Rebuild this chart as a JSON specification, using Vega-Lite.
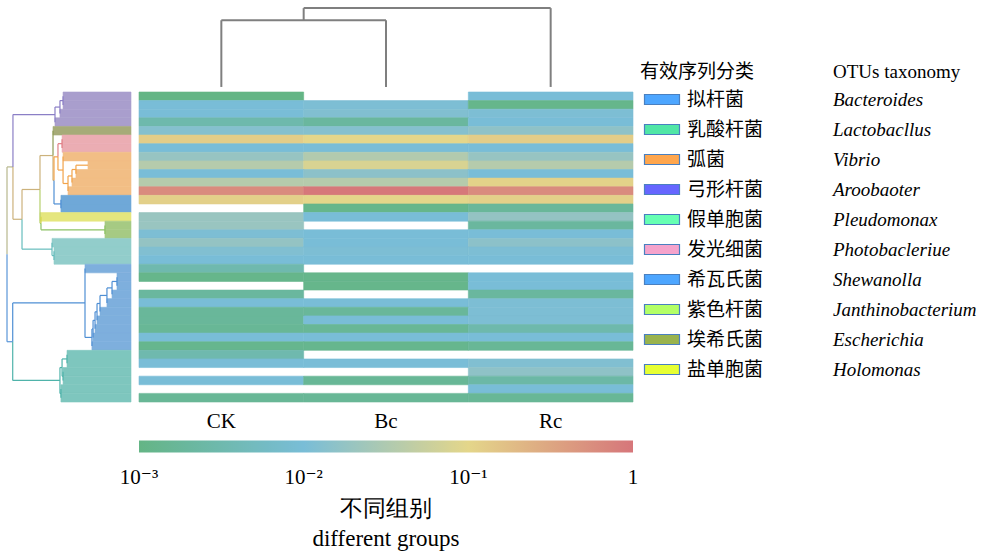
{
  "$schema": "https://vega.github.io/schema/vega-lite/v6.json",
  "background": "white",
  "padding": 0,
  "bounds": "flush",
  "columns": 2,
  "spacing": 0,
  "config": {"view": {"stroke": null}},
  "datasets": {
    "topTree": [
      {"c1": 0.5, "c2": 0.5, "h1": 0, "h2": 0.846},
      {"c1": 1.5, "c2": 1.5, "h1": 0, "h2": 0.846},
      {"c1": 0.5, "c2": 1.5, "h1": 0.846, "h2": 0.846},
      {"c1": 1, "c2": 1, "h1": 0.846, "h2": 1},
      {"c1": 2.5, "c2": 2.5, "h1": 0, "h2": 1},
      {"c1": 1, "c2": 2.5, "h1": 1, "h2": 1}
    ],
    "leaves": [
      {"otu": "OTU01", "taxon": "弓形杆菌", "h": 0.548},
      {"otu": "OTU02", "taxon": "弓形杆菌", "h": 0.548},
      {"otu": "OTU03", "taxon": "弓形杆菌", "h": 0.573},
      {"otu": "OTU04", "taxon": "弓形杆菌", "h": 0.613},
      {"otu": "OTU05", "taxon": "埃希氏菌", "h": 0.629},
      {"otu": "OTU06", "taxon": "发光细菌", "h": 0.556},
      {"otu": "OTU07", "taxon": "发光细菌", "h": 0.556},
      {"otu": "OTU08", "taxon": "弧菌", "h": 0.548},
      {"otu": "OTU09", "taxon": "弧菌", "h": 0.347},
      {"otu": "OTU10", "taxon": "弧菌", "h": 0.444},
      {"otu": "OTU11", "taxon": "弧菌", "h": 0.476},
      {"otu": "OTU12", "taxon": "弧菌", "h": 0.508},
      {"otu": "OTU13", "taxon": "拟杆菌", "h": 0.565},
      {"otu": "OTU14", "taxon": "拟杆菌", "h": 0.565},
      {"otu": "OTU15", "taxon": "盐单胞菌", "h": 0.734},
      {"otu": "OTU16", "taxon": "紫色杆菌", "h": 0.21},
      {"otu": "OTU17", "taxon": "紫色杆菌", "h": 0.21},
      {"otu": "OTU18", "taxon": "假单胞菌", "h": 0.637},
      {"otu": "OTU19", "taxon": "假单胞菌", "h": 0.621},
      {"otu": "OTU20", "taxon": "假单胞菌", "h": 0.621},
      {"otu": "OTU21", "taxon": "希瓦氏菌", "h": 0.371},
      {"otu": "OTU22", "taxon": "希瓦氏菌", "h": 0.113},
      {"otu": "OTU23", "taxon": "希瓦氏菌", "h": 0.113},
      {"otu": "OTU24", "taxon": "希瓦氏菌", "h": 0.153},
      {"otu": "OTU25", "taxon": "希瓦氏菌", "h": 0.194},
      {"otu": "OTU26", "taxon": "希瓦氏菌", "h": 0.25},
      {"otu": "OTU27", "taxon": "希瓦氏菌", "h": 0.274},
      {"otu": "OTU28", "taxon": "希瓦氏菌", "h": 0.29},
      {"otu": "OTU29", "taxon": "希瓦氏菌", "h": 0.306},
      {"otu": "OTU30", "taxon": "希瓦氏菌", "h": 0.315},
      {"otu": "OTU31", "taxon": "乳酸杆菌", "h": 0.516},
      {"otu": "OTU32", "taxon": "乳酸杆菌", "h": 0.516},
      {"otu": "OTU33", "taxon": "乳酸杆菌", "h": 0.548},
      {"otu": "OTU34", "taxon": "乳酸杆菌", "h": 0.548},
      {"otu": "OTU35", "taxon": "乳酸杆菌", "h": 0.565},
      {"otu": "OTU36", "taxon": "乳酸杆菌", "h": 0.565}
    ],
    "tree": [
      {"h1": 1.0, "h2": 1.0, "y1": 9.2, "y2": 19.35, "c": "m1"},
      {"h1": 1.0, "h2": 1.0, "y1": 19.35, "y2": 29.5, "c": "m4"},
      {"h1": 1.0, "h2": 0.952, "y1": 9.2, "y2": 9.2, "c": "m1"},
      {"h1": 1.0, "h2": 0.954, "y1": 29.5, "y2": 29.5, "c": "m4"},
      {"h1": 0.952, "h2": 0.952, "y1": 3.125, "y2": 9.2, "c": "弓形杆菌"},
      {"h1": 0.952, "h2": 0.952, "y1": 9.2, "y2": 15.28, "c": "m2"},
      {"h1": 0.952, "h2": 0.613, "y1": 3.125, "y2": 3.125, "c": "弓形杆菌"},
      {"h1": 0.952, "h2": 0.879, "y1": 15.28, "y2": 15.28, "c": "m2"},
      {"h1": 0.613, "h2": 0.613, "y1": 2.25, "y2": 4, "c": "弓形杆菌"},
      {"h1": 0.613, "h2": 0.573, "y1": 2.25, "y2": 2.25, "c": "弓形杆菌"},
      {"h1": 0.573, "h2": 0.573, "y1": 1.5, "y2": 3, "c": "弓形杆菌"},
      {"h1": 0.573, "h2": 0.548, "y1": 1.5, "y2": 1.5, "c": "弓形杆菌"},
      {"h1": 0.548, "h2": 0.548, "y1": 1, "y2": 2, "c": "弓形杆菌"},
      {"h1": 0.879, "h2": 0.879, "y1": 11.82, "y2": 15.28, "c": "m2"},
      {"h1": 0.879, "h2": 0.879, "y1": 15.28, "y2": 18.75, "c": "假单胞菌"},
      {"h1": 0.879, "h2": 0.734, "y1": 11.82, "y2": 11.82, "c": "m2"},
      {"h1": 0.879, "h2": 0.637, "y1": 18.75, "y2": 18.75, "c": "假单胞菌"},
      {"h1": 0.637, "h2": 0.637, "y1": 18, "y2": 19.5, "c": "假单胞菌"},
      {"h1": 0.637, "h2": 0.621, "y1": 19.5, "y2": 19.5, "c": "假单胞菌"},
      {"h1": 0.621, "h2": 0.621, "y1": 19, "y2": 20, "c": "假单胞菌"},
      {"h1": 0.734, "h2": 0.734, "y1": 7.88, "y2": 11.82, "c": "m2"},
      {"h1": 0.734, "h2": 0.734, "y1": 11.82, "y2": 15.75, "c": "m3"},
      {"h1": 0.734, "h2": 0.629, "y1": 7.88, "y2": 7.88, "c": "m2"},
      {"h1": 0.734, "h2": 0.726, "y1": 15.75, "y2": 15.75, "c": "m3"},
      {"h1": 0.726, "h2": 0.726, "y1": 15, "y2": 15.75, "c": "盐单胞菌"},
      {"h1": 0.726, "h2": 0.726, "y1": 15.75, "y2": 16.5, "c": "紫色杆菌"},
      {"h1": 0.726, "h2": 0.21, "y1": 16.5, "y2": 16.5, "c": "紫色杆菌"},
      {"h1": 0.21, "h2": 0.21, "y1": 16, "y2": 17, "c": "紫色杆菌"},
      {"h1": 0.629, "h2": 0.629, "y1": 5, "y2": 7.88, "c": "埃希氏菌"},
      {"h1": 0.629, "h2": 0.629, "y1": 7.88, "y2": 10.77, "c": "m2"},
      {"h1": 0.629, "h2": 0.621, "y1": 10.77, "y2": 10.77, "c": "m2"},
      {"h1": 0.621, "h2": 0.621, "y1": 8.03, "y2": 10.77, "c": "弧菌"},
      {"h1": 0.621, "h2": 0.621, "y1": 10.77, "y2": 13.5, "c": "拟杆菌"},
      {"h1": 0.621, "h2": 0.589, "y1": 8.03, "y2": 8.03, "c": "弧菌"},
      {"h1": 0.621, "h2": 0.565, "y1": 13.5, "y2": 13.5, "c": "拟杆菌"},
      {"h1": 0.565, "h2": 0.565, "y1": 13, "y2": 14, "c": "拟杆菌"},
      {"h1": 0.589, "h2": 0.589, "y1": 6.5, "y2": 8.03, "c": "发光细菌"},
      {"h1": 0.589, "h2": 0.589, "y1": 8.03, "y2": 9.5625, "c": "弧菌"},
      {"h1": 0.589, "h2": 0.556, "y1": 6.5, "y2": 6.5, "c": "发光细菌"},
      {"h1": 0.589, "h2": 0.548, "y1": 9.5625, "y2": 9.5625, "c": "弧菌"},
      {"h1": 0.556, "h2": 0.556, "y1": 6, "y2": 7, "c": "发光细菌"},
      {"h1": 0.548, "h2": 0.548, "y1": 8, "y2": 11.125, "c": "弧菌"},
      {"h1": 0.548, "h2": 0.508, "y1": 11.125, "y2": 11.125, "c": "弧菌"},
      {"h1": 0.508, "h2": 0.508, "y1": 10.25, "y2": 12, "c": "弧菌"},
      {"h1": 0.508, "h2": 0.476, "y1": 10.25, "y2": 10.25, "c": "弧菌"},
      {"h1": 0.476, "h2": 0.476, "y1": 9.5, "y2": 11, "c": "弧菌"},
      {"h1": 0.476, "h2": 0.444, "y1": 9.5, "y2": 9.5, "c": "弧菌"},
      {"h1": 0.444, "h2": 0.444, "y1": 9, "y2": 10, "c": "弧菌"},
      {"h1": 0.444, "h2": 0.347, "y1": 9, "y2": 9, "c": "弧菌"},
      {"h1": 0.954, "h2": 0.954, "y1": 25, "y2": 29.5, "c": "希瓦氏菌"},
      {"h1": 0.954, "h2": 0.954, "y1": 29.5, "y2": 34, "c": "乳酸杆菌"},
      {"h1": 0.954, "h2": 0.371, "y1": 25, "y2": 25, "c": "希瓦氏菌"},
      {"h1": 0.954, "h2": 0.573, "y1": 34, "y2": 34, "c": "乳酸杆菌"},
      {"h1": 0.371, "h2": 0.371, "y1": 21, "y2": 29, "c": "希瓦氏菌"},
      {"h1": 0.371, "h2": 0.315, "y1": 29, "y2": 29, "c": "希瓦氏菌"},
      {"h1": 0.315, "h2": 0.315, "y1": 28.01, "y2": 30, "c": "希瓦氏菌"},
      {"h1": 0.315, "h2": 0.306, "y1": 28.01, "y2": 28.01, "c": "希瓦氏菌"},
      {"h1": 0.306, "h2": 0.306, "y1": 27.02, "y2": 29, "c": "希瓦氏菌"},
      {"h1": 0.306, "h2": 0.29, "y1": 27.02, "y2": 27.02, "c": "希瓦氏菌"},
      {"h1": 0.29, "h2": 0.29, "y1": 26.03, "y2": 28, "c": "希瓦氏菌"},
      {"h1": 0.29, "h2": 0.274, "y1": 26.03, "y2": 26.03, "c": "希瓦氏菌"},
      {"h1": 0.274, "h2": 0.274, "y1": 25.06, "y2": 27, "c": "希瓦氏菌"},
      {"h1": 0.274, "h2": 0.25, "y1": 25.06, "y2": 25.06, "c": "希瓦氏菌"},
      {"h1": 0.25, "h2": 0.25, "y1": 24.125, "y2": 26, "c": "希瓦氏菌"},
      {"h1": 0.25, "h2": 0.194, "y1": 24.125, "y2": 24.125, "c": "希瓦氏菌"},
      {"h1": 0.194, "h2": 0.194, "y1": 23.25, "y2": 25, "c": "希瓦氏菌"},
      {"h1": 0.194, "h2": 0.153, "y1": 23.25, "y2": 23.25, "c": "希瓦氏菌"},
      {"h1": 0.153, "h2": 0.153, "y1": 22.5, "y2": 24, "c": "希瓦氏菌"},
      {"h1": 0.153, "h2": 0.113, "y1": 22.5, "y2": 22.5, "c": "希瓦氏菌"},
      {"h1": 0.113, "h2": 0.113, "y1": 22, "y2": 23, "c": "希瓦氏菌"},
      {"h1": 0.573, "h2": 0.573, "y1": 32.5, "y2": 35.5, "c": "乳酸杆菌"},
      {"h1": 0.573, "h2": 0.556, "y1": 32.5, "y2": 32.5, "c": "乳酸杆菌"},
      {"h1": 0.573, "h2": 0.565, "y1": 35.5, "y2": 35.5, "c": "乳酸杆菌"},
      {"h1": 0.556, "h2": 0.556, "y1": 31.5, "y2": 33.5, "c": "乳酸杆菌"},
      {"h1": 0.556, "h2": 0.516, "y1": 31.5, "y2": 31.5, "c": "乳酸杆菌"},
      {"h1": 0.556, "h2": 0.548, "y1": 33.5, "y2": 33.5, "c": "乳酸杆菌"},
      {"h1": 0.516, "h2": 0.516, "y1": 31, "y2": 32, "c": "乳酸杆菌"},
      {"h1": 0.548, "h2": 0.548, "y1": 33, "y2": 34, "c": "乳酸杆菌"},
      {"h1": 0.565, "h2": 0.565, "y1": 35, "y2": 36, "c": "乳酸杆菌"}
    ],
    "cells": [
      {"otu": "OTU01", "CK": 0.001, "Rc": 0.01},
      {"otu": "OTU02", "CK": 0.01, "Bc": 0.011, "Rc": 0.0012},
      {"otu": "OTU03", "CK": 0.01, "Bc": 0.012, "Rc": 0.011},
      {"otu": "OTU04", "CK": 0.003, "Bc": 0.002, "Rc": 0.01},
      {"otu": "OTU05", "CK": 0.013, "Bc": 0.013, "Rc": 0.016},
      {"otu": "OTU06", "CK": 0.125, "Bc": 0.1, "Rc": 0.125},
      {"otu": "OTU07", "CK": 0.01, "Bc": 0.01, "Rc": 0.01},
      {"otu": "OTU08", "CK": 0.019, "Bc": 0.034, "Rc": 0.019},
      {"otu": "OTU09", "CK": 0.036, "Bc": 0.078, "Rc": 0.036},
      {"otu": "OTU10", "CK": 0.01, "Bc": 0.015, "Rc": 0.01},
      {"otu": "OTU11", "CK": 0.036, "Bc": 0.036, "Rc": 0.11},
      {"otu": "OTU12", "CK": 0.6, "Bc": 0.95, "Rc": 0.6},
      {"otu": "OTU13", "CK": 0.115, "Bc": 0.1, "Rc": 0.115},
      {"otu": "OTU14", "Bc": 0.0012, "Rc": 0.0018},
      {"otu": "OTU15", "CK": 0.02, "Bc": 0.01, "Rc": 0.018},
      {"otu": "OTU16", "CK": 0.02, "Rc": 0.002},
      {"otu": "OTU17", "CK": 0.011, "Bc": 0.01, "Rc": 0.01},
      {"otu": "OTU18", "CK": 0.018, "Bc": 0.01, "Rc": 0.015},
      {"otu": "OTU19", "CK": 0.012, "Bc": 0.011, "Rc": 0.011},
      {"otu": "OTU20", "CK": 0.01, "Bc": 0.01, "Rc": 0.01},
      {"otu": "OTU21", "CK": 0.0032},
      {"otu": "OTU22", "CK": 0.0012, "Bc": 0.0012, "Rc": 0.01},
      {"otu": "OTU23", "Bc": 0.0012, "Rc": 0.01},
      {"otu": "OTU24", "CK": 0.002, "Rc": 0.002},
      {"otu": "OTU25", "CK": 0.01, "Bc": 0.01, "Rc": 0.011},
      {"otu": "OTU26", "CK": 0.0018, "Bc": 0.0018, "Rc": 0.011},
      {"otu": "OTU27", "CK": 0.0018, "Bc": 0.01, "Rc": 0.011},
      {"otu": "OTU28", "CK": 0.0016, "Bc": 0.0016, "Rc": 0.003},
      {"otu": "OTU29", "CK": 0.01, "Bc": 0.01, "Rc": 0.01},
      {"otu": "OTU30", "CK": 0.0013, "Bc": 0.0013, "Rc": 0.0016},
      {"otu": "OTU31", "CK": 0.0032},
      {"otu": "OTU32", "CK": 0.01, "Bc": 0.01, "Rc": 0.012},
      {"otu": "OTU33", "Rc": 0.016},
      {"otu": "OTU34", "CK": 0.01, "Bc": 0.0016, "Rc": 0.0025},
      {"otu": "OTU35", "Rc": 0.01},
      {"otu": "OTU36", "CK": 0.0016, "Bc": 0.0016, "Rc": 0.0016}
    ],
    "taxa": [
      {"cn": "拟杆菌", "latin": "Bacteroides"},
      {"cn": "乳酸杆菌", "latin": "Lactobacllus"},
      {"cn": "弧菌", "latin": "Vibrio"},
      {"cn": "弓形杆菌", "latin": "Aroobaoter"},
      {"cn": "假单胞菌", "latin": "Pleudomonax"},
      {"cn": "发光细菌", "latin": "Photobacleriue"},
      {"cn": "希瓦氏菌", "latin": "Shewanolla"},
      {"cn": "紫色杆菌", "latin": "Janthinobacterium"},
      {"cn": "埃希氏菌", "latin": "Escherichia"},
      {"cn": "盐单胞菌", "latin": "Holomonas"}
    ]
  },
  "concat": [
    {
      "width": 139, "height": 92,
      "data": {"values": []},
      "mark": "point",
      "encoding": {}
    },
    {
      "width": 494, "height": 92,
      "data": {"name": "topTree"},
      "mark": {"type": "rule", "color": "#7f7f7f", "strokeWidth": 2},
      "encoding": {
        "x": {"field": "c1", "type": "quantitative", "scale": {"domain": [0, 3], "nice": false, "zero": false}, "axis": null},
        "x2": {"field": "c2"},
        "y": {"field": "h1", "type": "quantitative", "scale": {"domain": [-0.064, 1.103], "nice": false, "zero": false}, "axis": null},
        "y2": {"field": "h2"}
      }
    },
    {
      "width": 139, "height": 310,
      "layer": [
        {
          "data": {"name": "leaves"},
          "mark": {"type": "rect", "strokeWidth": 0.6},
          "encoding": {
            "x": {"field": "h", "type": "quantitative", "scale": {"domain": [-0.0645, 1.0565], "reverse": true, "nice": false, "zero": false}, "axis": null},
            "x2": {"datum": 0},
            "y": {"field": "otu", "type": "ordinal", "scale": {"paddingInner": 0, "paddingOuter": 0}, "axis": null},
            "color": {
              "field": "taxon", "type": "nominal", "legend": null,
              "scale": {
                "domain": ["弓形杆菌", "埃希氏菌", "发光细菌", "弧菌", "拟杆菌", "盐单胞菌", "紫色杆菌", "假单胞菌", "希瓦氏菌", "乳酸杆菌"],
                "range": ["#a99ecd", "#a6ab78", "#ebadb3", "#f2be85", "#6fa8d8", "#e5e67e", "#a6ca83", "#92cdcb", "#7eafdd", "#7ec6be"]
              }
            },
            "stroke": {
              "field": "taxon", "type": "nominal", "legend": null,
              "scale": {
                "domain": ["弓形杆菌", "埃希氏菌", "发光细菌", "弧菌", "拟杆菌", "盐单胞菌", "紫色杆菌", "假单胞菌", "希瓦氏菌", "乳酸杆菌"],
                "range": ["#a99ecd", "#a6ab78", "#ebadb3", "#f2be85", "#6fa8d8", "#e5e67e", "#a6ca83", "#92cdcb", "#7eafdd", "#7ec6be"]
              }
            }
          }
        },
        {
          "data": {"name": "tree"},
          "mark": {"type": "rule", "strokeWidth": 1.2},
          "encoding": {
            "x": {"field": "h1", "type": "quantitative", "axis": null},
            "x2": {"field": "h2"},
            "y": {"field": "y1", "type": "quantitative", "scale": {"domain": [0.5, 36.5], "reverse": true, "nice": false, "zero": false}, "axis": null},
            "y2": {"field": "y2"},
            "stroke": {
              "field": "c", "type": "nominal", "legend": null,
              "scale": {
                "domain": ["弓形杆菌", "埃希氏菌", "发光细菌", "弧菌", "拟杆菌", "盐单胞菌", "紫色杆菌", "假单胞菌", "希瓦氏菌", "乳酸杆菌", "m1", "m2", "m3", "m4"],
                "range": ["#8b7fc6", "#8e9a55", "#e07f86", "#f2a34a", "#4f8fd4", "#d8d84a", "#8cc264", "#66bdbd", "#4f8fd4", "#4fb3aa", "#b8b88e", "#ccb27c", "#b6d06c", "#5a96d8"]
              }
            }
          }
        }
      ],
      "resolve": {"scale": {"y": "independent", "stroke": "independent"}}
    },
    {
      "width": 494, "height": 310,
      "layer": [
        {
          "data": {"name": "cells"},
          "transform": [
            {"fold": ["CK", "Bc", "Rc"], "as": ["group", "value"]},
            {"filter": "isValid(datum.value)"}
          ],
          "mark": {"type": "rect", "strokeWidth": 0.6},
          "encoding": {
            "x": {
              "field": "group", "type": "nominal", "sort": ["CK", "Bc", "Rc"],
              "scale": {"paddingInner": 0, "paddingOuter": 0},
              "axis": {"orient": "bottom", "title": null, "ticks": false, "domain": false, "labelAngle": 0, "labelFont": "Liberation Serif", "labelFontSize": 21, "labelColor": "#000", "labelPadding": 8}
            },
            "y": {"field": "otu", "type": "ordinal", "scale": {"paddingInner": 0, "paddingOuter": 0}, "axis": null},
            "stroke": {
              "field": "value", "type": "quantitative", "legend": null,
              "scale": {"type": "log", "domain": [0.001, 0.01, 0.1, 1], "range": ["#64b585", "#79bdd7", "#e4d68a", "#d6767a"], "interpolate": "rgb"}
            },
            "color": {
              "field": "value", "type": "quantitative",
              "scale": {"type": "log", "domain": [0.001, 0.01, 0.1, 1], "range": ["#64b585", "#79bdd7", "#e4d68a", "#d6767a"], "interpolate": "rgb"},
              "legend": {
                "orient": "none", "legendX": 0, "legendY": 348.5,
                "direction": "horizontal", "gradientLength": 494, "gradientThickness": 12,
                "gradientStrokeWidth": 0,
                "values": [0.001, 0.01, 0.1, 1],
                "labelExpr": "datum.value >= 0.5 ? '1' : datum.value >= 0.05 ? '10⁻¹' : datum.value >= 0.005 ? '10⁻²' : '10⁻³'",
                "labelFont": "Liberation Serif, DejaVu Serif", "labelFontSize": 21, "labelColor": "#000", "labelOffset": 14, "labelAlign": "center",
                "title": ["不同组别", "different groups"], "titleOrient": "bottom", "titleAnchor": "middle", "titleAlign": "center",
                "titleFont": "Liberation Serif", "titleFontSize": 23, "titleFontWeight": "normal", "titleColor": "#000",
                "titleLineHeight": 30, "titlePadding": 10,
                "encode": {"labels": {"update": {"align": {"value": "center"}}}}
              }
            }
          }
        },
        {
          "data": {"name": "taxa"},
          "mark": {"type": "point", "filled": true, "opacity": 0},
          "encoding": {
            "fill": {
              "field": "cn", "type": "nominal",
              "scale": {
                "domain": ["拟杆菌", "乳酸杆菌", "弧菌", "弓形杆菌", "假单胞菌", "发光细菌", "希瓦氏菌", "紫色杆菌", "埃希氏菌", "盐单胞菌"],
                "range": ["#4da6ff", "#50e6a6", "#ffa64d", "#6666ff", "#66ffb3", "#f5a3cc", "#4da6ff", "#b3ff66", "#99b34d", "#e6ff33"]
              },
              "legend": {
                "orient": "none", "legendX": 640, "legendY": 63,
                "title": "有效序列分类", "titleFont": "Noto Sans CJK SC", "titleFontSize": 19, "titleFontWeight": "normal", "titleColor": "#000", "titlePadding": 8,
                "labelFont": "Noto Sans CJK SC", "labelFontSize": 19, "labelColor": "#000", "labelOffset": 28, "labelLimit": 300,
                "symbolType": "M-1,-1H6V1H-1Z", "symbolSize": 100, "symbolStrokeColor": "#4a80c0", "symbolStrokeWidth": 1.2, "symbolOpacity": 1,
                "rowPadding": 10
              }
            }
          }
        },
        {
          "data": {"name": "taxa"},
          "mark": {"type": "point", "opacity": 0},
          "encoding": {
            "shape": {
              "field": "latin", "type": "nominal",
              "scale": {"domain": ["Bacteroides", "Lactobacllus", "Vibrio", "Aroobaoter", "Pleudomonax", "Photobacleriue", "Shewanolla", "Janthinobacterium", "Escherichia", "Holomonas"]},
              "legend": {
                "orient": "none", "legendX": 833, "legendY": 63,
                "title": "OTUs taxonomy", "titleFont": "Liberation Serif", "titleFontSize": 19, "titleFontWeight": "normal", "titleColor": "#000", "titlePadding": 8,
                "labelFont": "Liberation Serif", "labelFontStyle": "italic", "labelFontSize": 19, "labelColor": "#000", "labelOffset": -19, "labelLimit": 300,
                "symbolSize": 1, "symbolOpacity": 0, "symbolStrokeWidth": 0,
                "rowPadding": 10
              }
            }
          }
        }
      ]
    }
  ],
  "resolve": {"scale": {"color": "independent", "x": "independent", "y": "independent"}, "legend": {"color": "independent"}}
}
